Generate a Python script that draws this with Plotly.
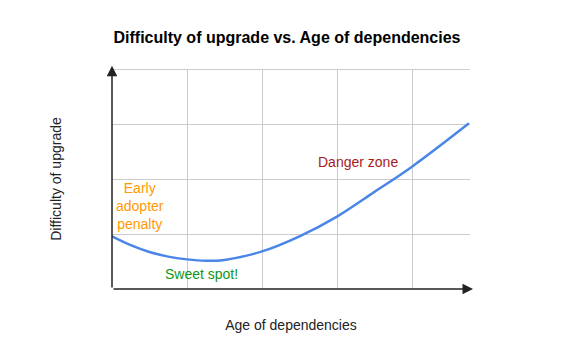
import plotly.graph_objects as go

# Data
age = [0, 0.25, 0.5, 0.75, 1.0, 1.25, 1.5, 2.0, 2.5, 3.0, 3.5, 4.0, 4.76]
difficulty = [0.96, 0.80, 0.675, 0.59, 0.54, 0.515, 0.53, 0.685, 0.96, 1.32, 1.77, 2.23, 3.02]

grid_x = [1, 2, 3, 4]
grid_y = [1, 2, 3, 4]

labels = [
    {"text": "Early<br>adopter<br>penalty", "x": 0.37, "y": 1.515, "color": "#ff9900"},
    {"text": "Sweet spot!", "x": 1.187, "y": 0.28, "color": "#109618"},
    {"text": "Danger zone", "x": 3.276, "y": 2.32, "color": "#a61c1c"},
]

font_family = "Arial, Liberation Sans, sans-serif"

fig = go.Figure()
fig.add_trace(go.Scatter(
    x=age, y=difficulty, mode="lines",
    line=dict(color="#4a86e8", width=2.5, shape="spline", smoothing=1.0),
    hoverinfo="skip", showlegend=False,
))

x_max = 358 / 75
for lb in labels:
    fig.add_annotation(
        x=lb["x"], y=lb["y"], xref="x", yref="y", text=lb["text"], showarrow=False,
        font=dict(family=font_family, size=14, color=lb["color"]), align="center",
    )

# top gridline (plotly hides the one at the range edge)
fig.add_shape(type="line", xref="paper", yref="y", x0=0, x1=1, y0=grid_y[-1], y1=grid_y[-1],
              line=dict(color="#cccccc", width=1), layer="below")

# axis arrows
fig.add_annotation(x=0, y=4.07, ax=0, ay=0, xref="x", yref="y", axref="x", ayref="y",
                   text="", showarrow=True, arrowhead=2, arrowsize=1.4, arrowwidth=1.5,
                   arrowcolor="#222")
fig.add_annotation(x=x_max + 0.04, y=0, ax=0, ay=0, xref="x", yref="y", axref="x", ayref="y",
                   text="", showarrow=True, arrowhead=2, arrowsize=1.4, arrowwidth=1.5,
                   arrowcolor="#222")

fig.update_layout(
    width=580, height=358,
    margin=dict(l=104, r=118, t=61, b=77),
    paper_bgcolor="white", plot_bgcolor="white",
    title=dict(text="<b>Difficulty of upgrade vs. Age of dependencies</b>",
               x=0.481, xanchor="center", y=0.919, yanchor="middle",
               font=dict(family=font_family, size=16, color="#000")),
    font=dict(family=font_family),
)
fig.update_xaxes(range=[0, x_max], tickvals=grid_x, showticklabels=False,
                 showgrid=True, gridcolor="#cccccc", gridwidth=1, zeroline=False,
                 showline=False, fixedrange=True,
                 title=dict(text="Age of dependencies", standoff=31,
                            font=dict(family=font_family, size=14, color="#222")))
fig.update_yaxes(range=[0, 4.01], tickvals=grid_y, showticklabels=False,
                 showgrid=True, gridcolor="#cccccc", gridwidth=1, zeroline=False,
                 showline=False, fixedrange=True,
                 title=dict(text="Difficulty of upgrade", standoff=46,
                            font=dict(family=font_family, size=14, color="#222")))

fig.write_html("out.html")
